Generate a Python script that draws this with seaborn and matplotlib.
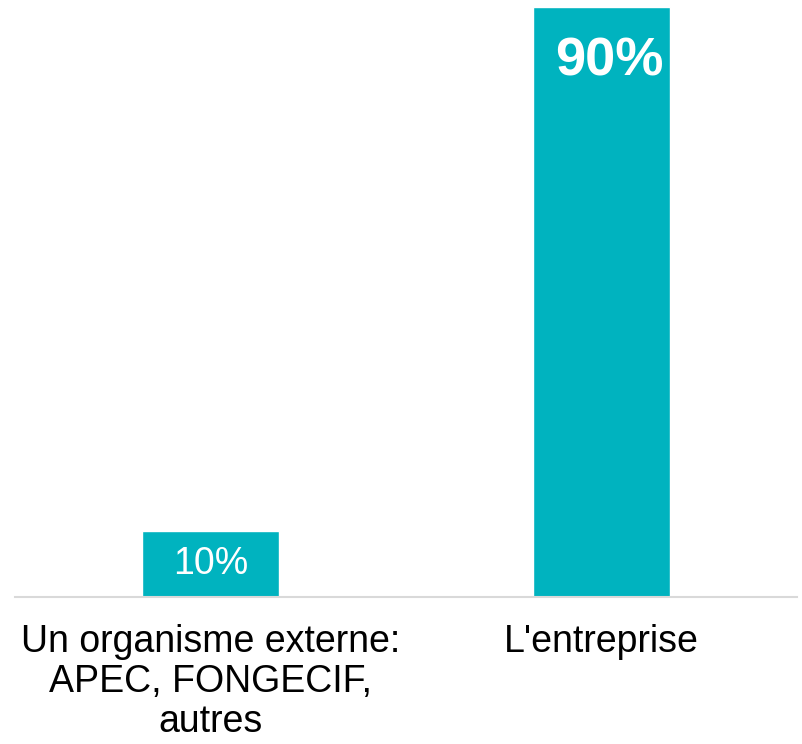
import matplotlib
matplotlib.use("Agg")
import matplotlib.pyplot as plt
import seaborn as sns
import pandas as pd

# -----------------------------
# Data
# -----------------------------
categories = ["Un organisme externe:\nAPEC, FONGECIF,\nautres", "L'entreprise"]
values = [10, 90]
labels = ["10%", "90%"]

df = pd.DataFrame({"cat": categories, "val": values})

# -----------------------------
# Style
# -----------------------------
sns.set_theme(style="white")
plt.rcParams["font.family"] = ["Liberation Sans", "DejaVu Sans"]

bar_color = "#00B3BF"

fig = plt.figure(figsize=(8.03, 7.44), dpi=100)
ax = fig.add_axes([15 / 803, 1 - 597 / 744, 782 / 803, 590 / 744])

sns.barplot(data=df, x="cat", y="val", color=bar_color, width=0.35,
            saturation=1, ax=ax)

ax.set_xlim(-0.5, 1.5)
ax.set_ylim(0, 90)

# value labels
ax.text(0, values[0] / 2, labels[0], ha="center", va="center",
        color="white", fontsize=27)
ax.text(1.02, values[1] - 8.3, labels[1], ha="center", va="center",
        color="white", fontsize=39, fontweight="bold")

# axes cosmetics
for side in ["top", "right", "left"]:
    ax.spines[side].set_visible(False)
ax.spines["bottom"].set_color("#D9D9D9")
ax.spines["bottom"].set_linewidth(1.5)
ax.set_yticks([])
ax.set_xlabel("")
ax.set_ylabel("")
ax.tick_params(axis="x", length=0, pad=19.5, labelsize=27, labelcolor="black")
for t in ax.get_xticklabels():
    t.set_multialignment("center")
    t.set_linespacing(1.15)

fig.savefig("out.png", dpi=100)
plt.close()
